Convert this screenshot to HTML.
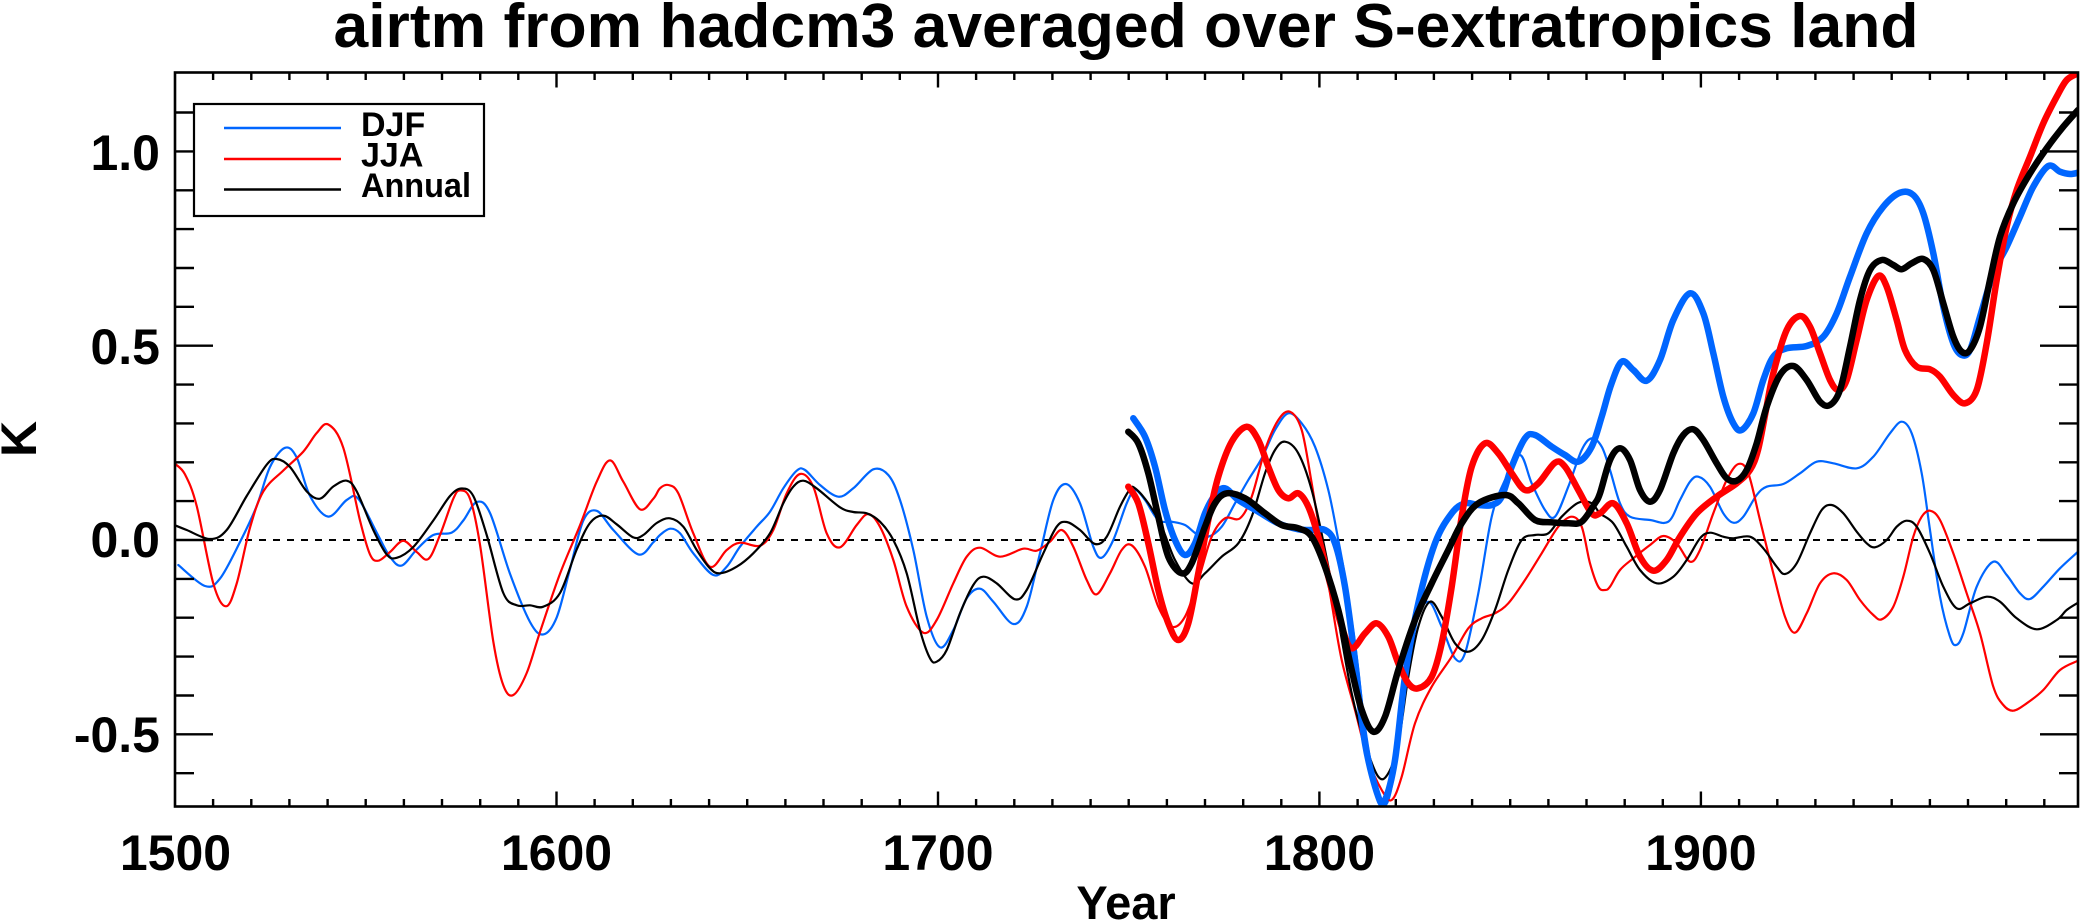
<!DOCTYPE html>
<html><head><meta charset="utf-8"><style>
html,body{margin:0;padding:0;background:#fff;}
svg{display:block;}
text{font-family:"Liberation Sans",Arial,Helvetica,sans-serif;font-weight:bold;fill:#000;}
</style></head><body>
<svg id="chart" width="2080" height="924" viewBox="0 0 2080 924" xmlns="http://www.w3.org/2000/svg">
<defs><clipPath id="pc"><rect x="175" y="72.5" width="1903" height="734"/></clipPath></defs>
<rect width="2080" height="924" fill="#fff"/>
<text x="1126" y="47" font-size="62" text-anchor="middle" textLength="1585" lengthAdjust="spacingAndGlyphs">airtm from hadcm3 averaged over S-extratropics land</text>

<g clip-path="url(#pc)" fill="none" stroke-linejoin="round" stroke-linecap="round">
<line x1="175" y1="540" x2="2078" y2="540" stroke="#000" stroke-width="2" stroke-dasharray="7 7" stroke-linecap="butt"/>
<polyline class="sm" stroke="#0066ff" stroke-width="2.2" points="178.3,565 205,586 220,578.6 240,542 256.7,506 270,467 285,447.8 296.7,457.5 310,496 328.3,516.6 346.7,500 358.3,498.7 376.7,532.6 390,556.8 401.7,565.6 416.7,549.5 433.3,535 451.7,532.6 463.3,520.5 476.7,502 490,513 510,573.8 530,622 543.3,634.4 556.7,617.4 570,569 583.3,520.5 596.7,510.8 613.3,530 638.3,554.4 653.3,542.3 660,535 670,528.7 680,533.3 693.3,553.3 713.3,575 726.7,566.7 740,546.7 756.7,526.7 770,511.7 783.3,488.3 796.7,470.7 805,470 820,485 838.3,496.7 853.3,488.3 873.3,469.3 888.3,475 900,500 913.3,550 926.7,616.7 940,647.3 953.3,630 966.7,598.3 980,588.7 993.3,601.7 1013.3,624 1026.7,606.7 1040,553.3 1053.3,500 1066,484 1080,503.3 1093.3,546.7 1101.7,557.7 1113.3,540 1126.7,503.3 1135,490 1145,500 1158.3,520 1171.7,521.7 1185,525 1196.7,534 1208.3,536.7 1221.7,526.7 1235,503.3 1248.3,480 1261.7,458.3 1275,430 1288.3,413.3 1301.7,423.3 1315,446.7 1328.3,490 1338.3,540 1345,576.7 1355,643.3 1365,726.7 1375,783.3 1383.3,806 1391.7,786.7 1401.7,710 1415,626.7 1428.3,601.7 1441.7,626.7 1455,658.3 1465,653.3 1478.3,593.3 1491.7,516.7 1505,480 1520,455 1531.7,483.3 1545,510 1555,516.7 1568.3,486.7 1581.7,450 1591.7,438.3 1601.7,446.7 1610,470 1620,503.3 1630,516.7 1650,520 1668.3,521.7 1680,500 1690,481.7 1698.3,476.7 1710,486.7 1723.3,513.3 1733.3,522.7 1743.3,516.7 1756.7,495 1766.7,486.7 1783.3,484 1800,473.3 1816.7,461.7 1833.3,463.3 1856.7,468.3 1873.3,456.7 1890,433.3 1901.7,421.7 1911.7,433.3 1921.7,473.3 1930,530 1940,596.7 1950,636.7 1956,645 1963.3,633.3 1976.7,586.7 1993.3,561.7 2006.7,575 2020,593.3 2030,599 2043.3,586.7 2060,568.3 2078,551.7"/>
<polyline class="sm" stroke="#ff0000" stroke-width="2.2" points="175,463.8 185,474.4 196.7,506 213.3,583.5 226,606.3 236.7,583.5 250,527.7 263.3,491.4 283.3,470.5 303.3,451.6 316.7,433 328.3,424.5 343.3,447.8 360,520.5 370,554.4 378.3,560.7 390,552 403.3,540.8 416.7,552 428.3,559 440,535 453.3,498.7 460,490.4 470,498.7 480,544.7 493.3,641.6 503.3,685.3 513.3,695 526.7,673 540,632 560,573.8 580,525.3 596.7,481.7 610,460.4 623.3,481.7 640,509.3 653.3,498.7 660,488.3 668.3,485 678.3,493.3 693.3,533.3 710,566.7 726.7,550 740,542.7 760,545.7 773.3,530 786.7,493.3 800,474 813.3,486.7 826.7,533.3 840,547.3 856.7,525 868.3,514 880,526.7 893.3,560 906.7,606.7 923.3,632.7 936.7,620 953.3,583.3 966.7,556.7 980,547.7 1000,556.7 1023.3,548.7 1036.7,550.7 1050,541.7 1061.7,530 1073.3,546.7 1086.7,580 1096.7,594.3 1110,573.3 1121.7,550 1131.7,545.3 1145,566.7 1158.3,606.7 1171.7,626.7 1185,616.7 1198.3,580 1211.7,536.7 1225,518.3 1240,518.3 1251.7,496.7 1265,450 1278.3,420 1290,411.7 1301.7,430 1311.7,483.3 1321.7,543.3 1331.7,603.3 1341.7,660 1355,710 1368.3,760 1381.7,790 1391.7,800 1401.7,776.7 1415,723.3 1431.7,686.7 1451.7,656.7 1468.3,628.3 1481.7,618.3 1495,613.3 1508.3,603.3 1525,580 1541.7,553.3 1558.3,526.7 1571.7,516.7 1581.7,526.7 1590,563.3 1598.3,586.7 1605,590 1610,586.7 1620,570 1633.3,558.3 1650,545 1663.3,536 1676.7,543.3 1690,561.7 1700,550 1713.3,513.3 1726.7,480 1738.3,464 1748.3,473.3 1760,520 1773.3,573.3 1785,616.7 1795,632.7 1806.7,613.3 1820,583.3 1833.3,573.3 1846.7,580 1860,600 1873.3,615 1881.7,619.3 1893.3,606.7 1903.3,576.7 1913.3,536.7 1921.7,516.7 1930,510.7 1940,520 1953.3,553.3 1966.7,593.3 1980,633.3 1993.3,686.7 2003.3,705 2013.3,710.7 2026.7,703.3 2043.3,690 2060,670 2078,660.7"/>
<polyline class="sm" stroke="#000" stroke-width="2.2" points="175,525.3 186.7,530 210,539 226.7,530 246.7,496 266.7,464.7 276.7,459 290,467 306.7,491.4 320,498.7 333.3,486.5 346.7,480.7 356.7,491.4 373.3,530 386.7,554.4 396.7,557.8 413.3,547 433.3,520.5 450,496 461.7,488.5 473.3,496 486.7,535 503.3,593 516.7,605.3 530,605.3 543.3,606.7 560,593 576.7,549.5 590,523 603.3,515.6 616.7,524.3 633.3,537.4 643.3,535 656.7,523 670,518.3 683.3,526.7 696.7,550 710,568.3 720,573.3 736.7,566.7 753.3,553.3 770,533.3 783.3,503.3 793.3,486.7 803.3,480.7 816.7,488.3 840,507.3 853.3,512 866.7,513.3 880,521.7 893.3,540 906.7,573.3 920,630 930,658.3 936.7,661.7 946.7,650 960,613.3 973.3,585 983.3,576.7 996.7,583.3 1015,599.3 1026.7,590 1043.3,553.3 1056.7,526.7 1066.7,522 1080,530 1095,544 1106.7,536.7 1120,506.7 1130,489.3 1135,488.3 1148.3,503.3 1161.7,526.7 1175,560 1191.7,583.3 1205,573.3 1221.7,556.7 1238.3,543.3 1251.7,516.7 1265,473.3 1275,450 1285,441.7 1298.3,453.3 1311.7,490 1325,550 1338.3,620 1351.7,693.3 1365,743.3 1378.3,776.7 1388.3,773.3 1398.3,743.3 1408.3,676.7 1418.3,626.7 1430,601.7 1441.7,616.7 1455,643.3 1468.3,651.7 1481.7,640 1495,610 1508.3,570 1521.7,540 1535,535 1548.3,533.3 1561.7,516.7 1578.3,502.7 1591.7,503.3 1600,513.3 1613.3,523.3 1626.7,546.7 1640,570 1656.7,583.3 1673.3,576.7 1686.7,560 1700,538.3 1710,532.7 1723.3,536.7 1733.3,538.3 1750,536.7 1763.3,548.3 1776.7,566.7 1785,574 1796.7,563.3 1810,533.3 1821.7,510 1831.7,505 1843.3,513.3 1856.7,531.7 1866.7,543.3 1875,547.3 1886.7,540 1896.7,526.7 1906.7,520.7 1916.7,526.7 1930,553.3 1943.3,586.7 1956.7,608.3 1970,603.3 1986.7,596.7 2000,601.7 2016.7,618.3 2036.7,629.3 2056.7,620 2066.7,610 2078,602.7"/>

<polyline class="sm" stroke="#0066ff" stroke-width="6.5" points="1133.3,418.3 1145,436.7 1155,466.7 1165,510 1175,540 1185,555 1195,543.3 1205,513.3 1215,495 1225,488.3 1238.3,500 1258.3,511.7 1278.3,523.3 1298.3,529.3 1311.7,530 1325,530 1335,543.3 1345,586.7 1355,660 1365,743.3 1378.3,796.7 1385,800 1395,760 1405,676.7 1418.3,603.3 1435,543.3 1451.7,513.3 1465,503.3 1478.3,505 1491.7,505 1501.7,496.7 1511.7,466.7 1525,438.3 1535,435 1551.7,446.7 1565,455 1578.3,461.7 1591.7,446.7 1601.7,416.7 1611,385 1621.7,361.7 1633.3,370 1646.7,380.7 1660,360 1673.3,320 1690,293.3 1703.3,313.3 1713.3,353.3 1723.3,396.7 1733.3,423.3 1741.7,430 1753.3,413.3 1763.3,380 1773.3,356.7 1786.7,348.3 1806.7,346 1823.3,336.7 1836.7,313.3 1850,276.7 1866.7,233.3 1883.3,206.7 1900,192.7 1913.3,195 1923.3,213.3 1933.3,253.3 1943.3,306.7 1953.3,343.3 1961.7,355 1970,350 1980,316.7 1993.3,273.3 2006.7,246.7 2020,216.7 2033.3,186.7 2048.3,166 2060,171.7 2070,174 2078,172.7"/>
<polyline class="sm" stroke="#ff0000" stroke-width="6.5" points="1128.3,486.7 1138.3,503.3 1148.3,543.3 1158.3,590 1168.3,623.3 1178.3,640 1188.3,623.3 1198.3,573.3 1208.3,520 1218.3,476.7 1231.7,441.7 1246.7,426.7 1258.3,440 1268.3,466.7 1278.3,490 1288.3,498.3 1298.3,493.3 1308.3,506.7 1318.3,536.7 1328.3,576.7 1341.7,626.7 1351.7,648.3 1365,633.3 1376.7,623.3 1388.3,636.7 1398.3,663.3 1408.3,683.3 1418.3,688.3 1431.7,676.7 1441.7,643.3 1451.7,586.7 1461.7,516.7 1471.7,466.7 1485,443.3 1498.3,453.3 1511.7,473.3 1525,490 1538.3,483.3 1555,462.7 1565,466.7 1578.3,490 1591.7,513.3 1600,513.3 1613.3,503.3 1626.7,523.3 1640,556.7 1653.3,570.7 1666.7,560 1680,536.7 1696.7,513.3 1716.7,496.7 1736.7,483.3 1750,470 1758,450 1766,410 1773.3,373.3 1786.7,330 1800,316 1810,326.7 1820,353.3 1830,380 1838.3,390 1846.7,380 1856.7,340 1866.7,300 1878.3,276 1886.7,286.7 1896.7,320 1905,350 1916.7,366.7 1930,369.3 1940,376.7 1953.3,395 1965,403.3 1976.7,390 1986.7,343.3 1996.7,280 2006.7,226.7 2016.7,190 2030,156.7 2043.3,123.3 2056.7,96.7 2066.7,80 2078,73.3"/>
<polyline class="sm" stroke="#000" stroke-width="6.5" points="1128.3,431.7 1138.3,443.3 1148.3,473.3 1158.3,516.7 1168.3,556.7 1181.7,573.3 1191.7,563.3 1205,526.7 1215,503.3 1226.7,493.3 1245,498.3 1265,513.3 1281.7,525 1298.3,528.3 1311.7,536.7 1325,566.7 1338.3,610 1351.7,670 1361.7,710 1373.3,731.7 1385,716.7 1398.3,670 1415,620 1431.7,583.3 1448.3,550 1461.7,523.3 1478.3,503.3 1505,495 1518.3,503.3 1535,520 1551.7,522.3 1568.3,523.3 1581.7,521.7 1595,503.3 1600,493.3 1610,460 1620,448.3 1630,460 1640,490 1650,501.7 1660,490 1673.3,453.3 1683.3,435 1693.3,429.3 1703.3,440 1716.7,463.3 1726.7,478.3 1736.7,480.7 1746.7,470 1756.7,443.3 1766.7,406.7 1780,375 1793.3,366 1806.7,380 1820,401.7 1830,405 1840,390 1850,346.7 1860,300 1870,270 1881.7,260 1893.3,265 1901.7,269.3 1911.7,263.3 1923.3,259 1933.3,270 1943.3,303.3 1953.3,336.7 1961.7,351.7 1970,350 1980,326.7 1990,280 2000,236.7 2013.3,203.3 2030,173.3 2046.7,148.3 2063.3,126.7 2078,110"/>
</g>

<!-- frame -->
<rect x="175" y="72.5" width="1903" height="734" fill="none" stroke="#000" stroke-width="2.6"/>
<g stroke="#000" stroke-width="2.4" fill="none">
<path d="M213.1,806.5v-7.5M251.3,806.5v-7.5M289.4,806.5v-7.5M327.6,806.5v-7.5M365.7,806.5v-7.5M403.9,806.5v-7.5M442,806.5v-7.5M480.2,806.5v-7.5M518.3,806.5v-7.5M594.6,806.5v-7.5M632.8,806.5v-7.5M670.9,806.5v-7.5M709.1,806.5v-7.5M747.2,806.5v-7.5M785.4,806.5v-7.5M823.5,806.5v-7.5M861.7,806.5v-7.5M899.8,806.5v-7.5M976.1,806.5v-7.5M1014.3,806.5v-7.5M1052.4,806.5v-7.5M1090.6,806.5v-7.5M1128.7,806.5v-7.5M1166.9,806.5v-7.5M1205,806.5v-7.5M1243.2,806.5v-7.5M1281.3,806.5v-7.5M1357.6,806.5v-7.5M1395.8,806.5v-7.5M1433.9,806.5v-7.5M1472.1,806.5v-7.5M1510.2,806.5v-7.5M1548.4,806.5v-7.5M1586.5,806.5v-7.5M1624.7,806.5v-7.5M1662.8,806.5v-7.5M1739.1,806.5v-7.5M1777.3,806.5v-7.5M1815.4,806.5v-7.5M1853.6,806.5v-7.5M1891.7,806.5v-7.5M1929.9,806.5v-7.5M1968,806.5v-7.5M2006.2,806.5v-7.5M2044.3,806.5v-7.5"/>
<path d="M556.5,806.5v-15M938,806.5v-15M1319.4,806.5v-15M1700.9,806.5v-15"/>
<path d="M213.1,72.5v7.5M251.3,72.5v7.5M289.4,72.5v7.5M327.6,72.5v7.5M365.7,72.5v7.5M403.9,72.5v7.5M442,72.5v7.5M480.2,72.5v7.5M518.3,72.5v7.5M594.6,72.5v7.5M632.8,72.5v7.5M670.9,72.5v7.5M709.1,72.5v7.5M747.2,72.5v7.5M785.4,72.5v7.5M823.5,72.5v7.5M861.7,72.5v7.5M899.8,72.5v7.5M976.1,72.5v7.5M1014.3,72.5v7.5M1052.4,72.5v7.5M1090.6,72.5v7.5M1128.7,72.5v7.5M1166.9,72.5v7.5M1205,72.5v7.5M1243.2,72.5v7.5M1281.3,72.5v7.5M1357.6,72.5v7.5M1395.8,72.5v7.5M1433.9,72.5v7.5M1472.1,72.5v7.5M1510.2,72.5v7.5M1548.4,72.5v7.5M1586.5,72.5v7.5M1624.7,72.5v7.5M1662.8,72.5v7.5M1739.1,72.5v7.5M1777.3,72.5v7.5M1815.4,72.5v7.5M1853.6,72.5v7.5M1891.7,72.5v7.5M1929.9,72.5v7.5M1968,72.5v7.5M2006.2,72.5v7.5M2044.3,72.5v7.5"/>
<path d="M556.5,72.5v15M938,72.5v15M1319.4,72.5v15M1700.9,72.5v15"/>
<path d="M175,773.2h19M175,734.3h38M175,695.5h19M175,656.6h19M175,617.7h19M175,578.9h19M175,540h38M175,501.1h19M175,462.3h19M175,423.4h19M175,384.6h19M175,345.7h38M175,306.8h19M175,268h19M175,229.1h19M175,190.3h19M175,151.4h38M175,112.5h19"/>
<path d="M2078,773.2h-19M2078,734.3h-38M2078,695.5h-19M2078,656.6h-19M2078,617.7h-19M2078,578.9h-19M2078,540h-38M2078,501.1h-19M2078,462.3h-19M2078,423.4h-19M2078,384.6h-19M2078,345.7h-38M2078,306.8h-19M2078,268h-19M2078,229.1h-19M2078,190.3h-19M2078,151.4h-38M2078,112.5h-19"/>
</g>

<g font-size="50">
<text x="160" y="170" text-anchor="end">1.0</text>
<text x="160" y="364" text-anchor="end">0.5</text>
<text x="160" y="557" text-anchor="end">0.0</text>
<text x="160" y="752" text-anchor="end">-0.5</text>
<text x="175.5" y="870" text-anchor="middle">1500</text>
<text x="556.5" y="870" text-anchor="middle">1600</text>
<text x="938" y="870" text-anchor="middle">1700</text>
<text x="1319.4" y="870" text-anchor="middle">1800</text>
<text x="1700.9" y="870" text-anchor="middle">1900</text>
</g>
<text x="1126" y="919" font-size="47" text-anchor="middle">Year</text>
<text transform="translate(36,439) rotate(-90)" font-size="50" text-anchor="middle">K</text>

<rect x="194" y="104" width="290" height="112" fill="#fff" stroke="#000" stroke-width="2.2"/>
<line x1="224" y1="128" x2="341" y2="128" stroke="#0066ff" stroke-width="2.6"/>
<line x1="224" y1="159" x2="341" y2="159" stroke="#ff0000" stroke-width="2.6"/>
<line x1="224" y1="189.5" x2="341" y2="189.5" stroke="#000" stroke-width="2.6"/>
<g font-size="34">
<text x="361" y="136">DJF</text>
<text x="361" y="166.6">JJA</text>
<text x="361" y="197" textLength="110" lengthAdjust="spacingAndGlyphs">Annual</text>
</g>
</svg>
<script>
(function(){
  var NS="http://www.w3.org/2000/svg";
  var pls=document.querySelectorAll("polyline.sm");
  for(var k=0;k<pls.length;k++){
    var pl=pls[k];
    var raw=pl.getAttribute("points").trim().split(/\s+/);
    var p=[];
    for(var i=0;i<raw.length;i++){var a=raw[i].split(",");p.push([parseFloat(a[0]),parseFloat(a[1])]);}
    if(p.length<3) continue;
    var d="M"+p[0][0]+","+p[0][1];
    for(var i=0;i<p.length-1;i++){
      var p0=p[i>0?i-1:i],p1=p[i],p2=p[i+1],p3=p[i+2<p.length?i+2:i+1];
      var c1x=p1[0]+(p2[0]-p0[0])/6,c1y=p1[1]+(p2[1]-p0[1])/6;
      var c2x=p2[0]-(p3[0]-p1[0])/6,c2y=p2[1]-(p3[1]-p1[1])/6;
      d+=" C"+c1x.toFixed(2)+","+c1y.toFixed(2)+" "+c2x.toFixed(2)+","+c2y.toFixed(2)+" "+p2[0]+","+p2[1];
    }
    var path=document.createElementNS(NS,"path");
    path.setAttribute("d",d);
    path.setAttribute("stroke",pl.getAttribute("stroke"));
    path.setAttribute("stroke-width",pl.getAttribute("stroke-width"));
    path.setAttribute("fill","none");
    pl.parentNode.replaceChild(path,pl);
  }
})();
</script>
</body></html>
